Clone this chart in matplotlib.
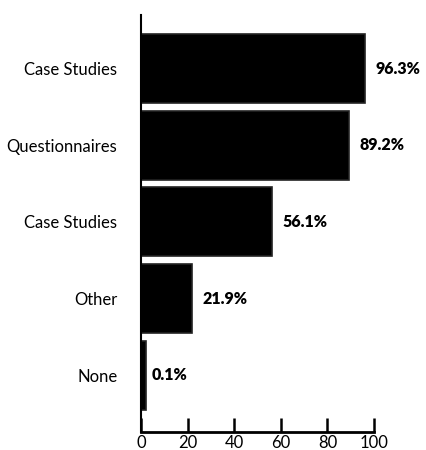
import matplotlib
matplotlib.use('Agg')
import matplotlib.pyplot as plt

# data
categories = ['Case Studies', 'Questionnaires', 'Case Studies', 'Other', 'None']
values = [96.3, 89.2, 56.1, 21.9, 0.1]
xticks = [0, 20, 40, 60, 80, 100]

plt.rcParams['font.family'] = ['Lato', 'DejaVu Sans']

fig = plt.figure(figsize=(4.26, 4.5), dpi=100)
ax = fig.add_axes([141 / 426, 18 / 450, 233 / 426, 417 / 450])

pos = list(range(len(categories)))
# tiny values still get a visible sliver, as in the original
drawn = [max(v, 2.0) for v in values]
ax.barh(pos, drawn, height=0.9, color='black', edgecolor='#222222', linewidth=1.2)

for p, v in zip(pos, values):
    ax.text(v + 4.5, p, '%.1f%%' % v, va='center', ha='left', fontsize=11.5, fontweight='heavy')

ax.set_yticks(pos)
ax.set_yticklabels(categories, fontsize=12)
ax.set_ylim(4.74, -0.70)
ax.set_xlim(0, 100)
ax.set_xticks(xticks)
ax.set_xticklabels([str(t) for t in xticks], fontsize=12)

ax.tick_params(axis='y', length=0, pad=17)
ax.tick_params(axis='x', direction='in', length=10, width=1.8, pad=2.5)

for s in ['top', 'right']:
    ax.spines[s].set_visible(False)
ax.spines['left'].set_linewidth(1.5)
ax.spines['bottom'].set_linewidth(2)

fig.savefig('out.png', dpi=100)
